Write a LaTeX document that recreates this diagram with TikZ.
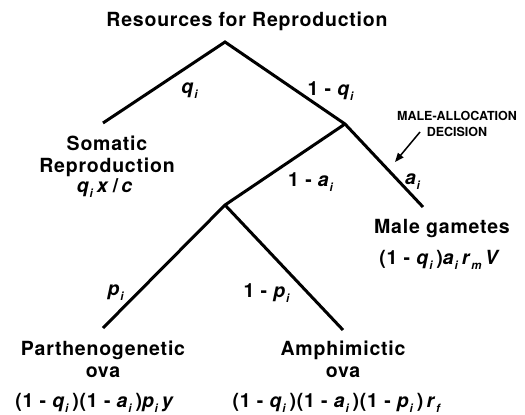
\documentclass[tikz,border=0pt]{standalone}
\usepackage{fontspec}
\setmainfont{TeX Gyre Heros}
\newfontfamily\largofont{TeX Gyre Heros}[LetterSpace=4,WordSpace=2.4]
\newfontfamily\formfont{TeX Gyre Heros}[LetterSpace=4]
\usepackage{tikz}
\usetikzlibrary{arrows.meta}
\usetikzlibrary{positioning}
\newcommand{\vsub}[2]{\textit{#1}\raisebox{-5pt}{\fontsize{11.5}{11.5}\selectfont\textit{#2}}\hspace{3pt}}
\tikzset{
  ramo/.style={line width=3pt},
  rotulo/.style={font=\largofont\fontsize{19.5}{22}\selectfont\bfseries, align=center, inner sep=0pt},
  formula/.style={font=\formfont\fontsize{19.5}{22}\selectfont\bfseries, inner sep=0pt, anchor=base},
  peso/.style={font=\formfont\fontsize{19.5}{22}\selectfont\bfseries, inner sep=0pt},
  nota/.style={font=\fontsize{12.5}{16}\selectfont\bfseries, align=center, inner sep=0pt},
  seta/.style={-{Triangle[length=9pt,width=7pt]}, line width=1.5pt},
}

\begin{document}
\begin{tikzpicture}[x=1pt, y=-1pt]
  \useasboundingbox (0,0) rectangle (525,415);
  \node[rotulo, anchor=base] (titulo) at (247,26) {Resources for Reproduction};
  % pontos da arvore
  \coordinate (raiz) at (225,42);
  \coordinate (soma) at (103,123);
  \coordinate (sexo) at (345,124);
  \coordinate (macho) at (423,207);
  \coordinate (ovos) at (225,205);
  \coordinate (parte) at (103,328);
  \coordinate (anfi) at (343,330);
  \draw[ramo] (soma) -- (raiz) -- (sexo) -- (macho);
  \draw[ramo] (sexo) -- (ovos) -- (parte);
  \draw[ramo] (ovos) -- (anfi);
  % pesos dos ramos
  \node[peso] (wq) at (190,91) {\vsub{q}{i}};
  \node[peso] (wq1) at (331,91) {1 - \vsub{q}{i}};
  \node[peso] (wa1) at (311,182) {1 - \vsub{a}{i}};
  \node[peso] (wa) at (413,182) {\vsub{a}{i}};
  \node[peso] (wp) at (116,293) {\vsub{p}{i}};
  \node[peso] (wp1) at (267,293) {1 - \vsub{p}{i}};
  % destinos
  \node[rotulo, anchor=north] (lsoma) at (107,136) {Somatic\\Reproduction};
  \node[formula] (fsoma) at (105,192) {\vsub{q}{i}\textit{x}\,/\,\textit{c}};
  \node[rotulo, anchor=base] (lmacho) at (442,233) {Male gametes};
  \node[formula] (fmacho) at (440,264) {(1 - \vsub{q}{i})\vsub{a}{i}\vsub{r}{m}\textit{V}};
  \node[rotulo, anchor=north] (lparte) at (103,341) {Parthenogenetic\\ova};
  \node[formula] (fparte) at (95,407) {(1 - \vsub{q}{i})(1 - \vsub{a}{i})\vsub{p}{i}\textit{y}};
  \node[rotulo, anchor=north] (lanfi) at (343,341) {Amphimictic\\ova};
  \node[formula] (fanfi) at (337,407) {(1 - \vsub{q}{i})(1 - \vsub{a}{i})(1 - \vsub{p}{i})\,\vsub{r}{f}};
  % decisao
  \node[nota] (decisao) at (457,123.5) {MALE-ALLOCATION\\DECISION};
  \coordinate (inicio) at (420,132);
  \coordinate (alvo) at (395,162);
  \draw[seta] (inicio) -- (alvo);
\end{tikzpicture}
\end{document}
